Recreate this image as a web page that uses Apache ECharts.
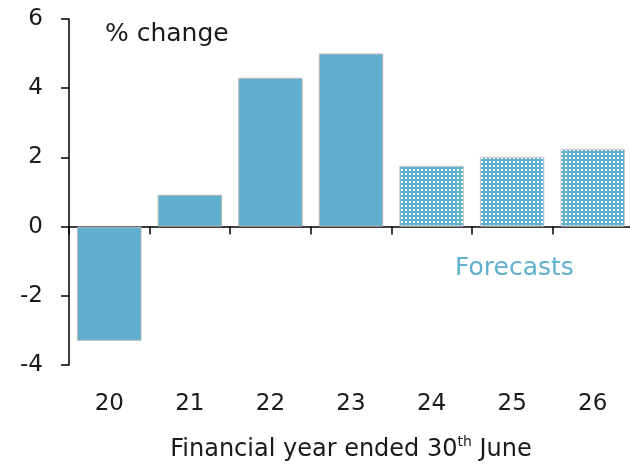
<!DOCTYPE html>
<html lang="en">
<head>
    <meta charset="UTF-8">
    <title>financial_year_change</title>
    <script src="https://cdn.jsdelivr.net/npm/echarts@6/dist/echarts.min.js"></script>
    <style>
        html, body { margin: 0; padding: 0; background: #fff; }
    </style>
</head>
<body>
<div id="chart" style="width:630px;height:464px;"></div>
<script>
    // data
    var years = ['20', '21', '22', '23', '24', '25', '26'];
    var actual = [-3.3, 0.92, 4.3, 5.0, null, null, null];
    var forecast = [null, null, null, null, 1.76, 2.02, 2.25];
    var yTicks = [-4, -2, 0, 2, 4, 6];

    var barBlue = '#5fb0ce';
    var font = '"DejaVu Sans", sans-serif';

    // little dotted tile for the forecast bars
    var tile = document.createElement('canvas');
    tile.width = 4;
    tile.height = 4;
    var tctx = tile.getContext('2d');
    tctx.fillStyle = barBlue;
    tctx.fillRect(0, 0, 4, 4);
    tctx.fillStyle = '#ffffff';
    tctx.fillRect(1, 1, 2, 2);

    var chart = echarts.init(document.getElementById('chart'));
    chart.setOption({
        animation: false,
        grid: {left: 69, right: -3, top: 19, bottom: 99, containLabel: false, outerBoundsMode: 'none'},
        xAxis: [
            {
                type: 'category',
                data: years,
                boundaryGap: true,
                axisLine: {onZero: true, lineStyle: {color: '#000', width: 1.5}},
                axisTick: {show: true, alignWithLabel: false, length: 8, lineStyle: {color: '#000', width: 1.5}},
                axisLabel: {show: false}
            },
            {
                type: 'category',
                data: years,
                position: 'bottom',
                axisLine: {show: false, onZero: false},
                axisTick: {show: false},
                axisLabel: {show: true, margin: 28, color: '#1a1a1a', fontSize: 23, fontFamily: font},
                name: 'Financial year ended 30{sup|th} June',
                nameLocation: 'middle',
                nameGap: 70,
                nameTextStyle: {
                    color: '#1a1a1a', fontSize: 24, fontFamily: font, lineHeight: 30,
                    rich: {sup: {fontSize: 14, fontFamily: font, color: '#1a1a1a', verticalAlign: 'top', lineHeight: 16}}
                }
            }
        ],
        yAxis: {
            type: 'value',
            min: yTicks[0],
            max: yTicks[yTicks.length - 1],
            interval: 2,
            splitLine: {show: false},
            axisLine: {show: true, lineStyle: {color: '#000', width: 1.5}},
            axisTick: {show: true, inside: false, length: 8, lineStyle: {color: '#000', width: 1.5}},
            axisLabel: {margin: 26, color: '#1a1a1a', fontSize: 23, fontFamily: font}
        },
        series: [
            {
                name: 'Actual',
                type: 'bar',
                xAxisIndex: 0,
                data: actual,
                barWidth: '80%',
                barGap: '-100%',
                itemStyle: {color: barBlue, borderColor: '#b8b8b8', borderWidth: 1}
            },
            {
                name: 'Forecast',
                type: 'bar',
                xAxisIndex: 0,
                data: forecast,
                barWidth: '80%',
                barGap: '-100%',
                itemStyle: {color: {image: tile, repeat: 'repeat'}, borderColor: '#c8c8c8', borderWidth: 1}
            }
        ],
        graphic: [
            {
                type: 'text', left: 105, top: 22,
                style: {text: '% change', fill: '#1a1a1a', fontSize: 25, fontFamily: font}
            },
            {
                type: 'text', left: 455, top: 256,
                style: {text: 'Forecasts', fill: barBlue, fontSize: 25, fontFamily: font}
            }
        ]
    });
</script>
</body>
</html>
